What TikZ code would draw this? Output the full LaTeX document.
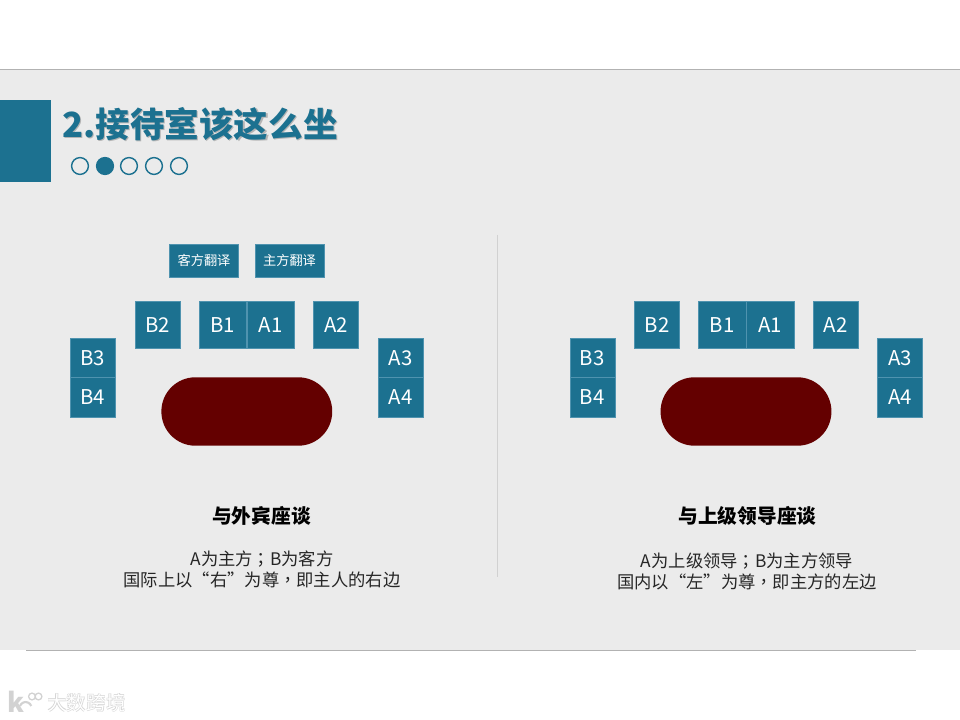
\documentclass[tikz,border=0pt]{standalone}
\usepackage{fontspec}
\setmainfont{Noto Sans CJK SC}
\newfontfamily\puncttc{Noto Sans CJK TC}
\usepackage{tikz}
\definecolor{slidegray}{HTML}{EBEBEB}
\definecolor{seatblue}{HTML}{1C7190}
\definecolor{seatedge}{HTML}{4F93AF}
\definecolor{tablered}{HTML}{640000}
\definecolor{titleshade}{HTML}{B4B4B4}
\definecolor{markgray}{HTML}{D2D2D2}

\begin{document}
\begin{tikzpicture}[
    x=0.025cm, y=-0.025cm,
    seat/.style={rectangle,draw=seatedge,line width=0.35pt,fill=seatblue,text=white,
                 font=\fontsize{14.5}{16}\selectfont,inner sep=0pt,
                 minimum width=1.125cm,minimum height=1.165cm},
    seatwide/.style={seat,minimum width=1.19cm},
    seatlow/.style={seat,minimum height=0.99cm},
    interp/.style={seat,font=\fontsize{9.4}{12}\selectfont,
                   minimum width=1.73cm,minimum height=0.84cm},
    tbl/.style={rectangle,fill=tablered,rounded corners=0.85cm,inner sep=0pt,
                minimum width=4.27cm,minimum height=1.71cm},
    dot/.style={circle,draw=seatblue,line width=1pt,fill=slidegray,inner sep=0pt,
                minimum size=0.42cm},
    dotfull/.style={dot,fill=seatblue},
    hd/.style={font=\fontsize{14}{17}\selectfont\bfseries,text=black},
    body/.style={font=\fontsize{12.3}{14.6}\selectfont,text=black!85,align=center},
    ttl/.style={font=\fontsize{24.6}{30}\selectfont\bfseries,anchor=west,inner sep=0pt},
    wmark/.style={font=\fontsize{14}{16}\selectfont,inner sep=0pt}]

  \useasboundingbox (0,0) rectangle (960,720);
  \fill[white] (0,0) rectangle (960,720);
  \fill[slidegray] (0,70) rectangle (960,650);
  \draw[black!30,line width=0.7pt] (0,69.5) -- (960,69.5);
  \draw[black!30,line width=0.7pt] (26,650.5) -- (916,650.5);
  \draw[black!18,line width=0.6pt] (497,235) -- (497,577);

  \fill[seatblue] (0,100) rectangle (51,182);
  \node[ttl,text=titleshade] (titleshadow) at (63.2,125.5) {2.接待室该这么坐};
  \node[ttl,text=seatblue] (title) at (62,124.2) {2.接待室该这么坐};

  \node[dot]     (d1) at (80,166) {};
  \node[dotfull] (d2) at (105,166) {};
  \node[dot]     (d3) at (129,166) {};
  \node[dot]     (d4) at (154,166) {};
  \node[dot]     (d5) at (179,166) {};

  \node[interp] (guest) at (204,260.6) {客方翻译};
  \node[interp] (host)  at (289.5,260.6) {主方翻译};

  \node[seat]     (lb2) at (157.5,325) {B2};
  \node[seatwide] (lb1) at (222.7,325) {B1};
  \node[seatwide] (la1) at (270.8,325) {A1};
  \node[seat]     (la2) at (336,325) {A2};
  \node[seatlow]  (lb3) at (92.8,357.7) {B3};
  \node[seatlow]  (lb4) at (92.8,397.5) {B4};
  \node[seatlow]  (la3) at (400.6,357.7) {A3};
  \node[seatlow]  (la4) at (400.6,397.5) {A4};
  \node[tbl]      (ltable) at (246.8,411.5) {};

  \node[seat]     (rb2) at (657,325) {B2};
  \node[seatwide] (rb1) at (722.2,325) {B1};
  \node[seatwide] (ra1) at (770.3,325) {A1};
  \node[seat]     (ra2) at (835.5,325) {A2};
  \node[seatlow]  (rb3) at (592.3,357.7) {B3};
  \node[seatlow]  (rb4) at (592.3,397.5) {B4};
  \node[seatlow]  (ra3) at (900,357.7) {A3};
  \node[seatlow]  (ra4) at (900,397.5) {A4};
  \node[tbl]      (rtable) at (746,411.5) {};

  \node[hd] (lhead) at (261.5,516) {与外宾座谈};
  \node[hd] (rhead) at (747.5,516) {与上级领导座谈};
  \node[body] (lnote) at (262,569.5) {A为主方{\puncttc ；}B为客方\\国际上以“右”为尊{\puncttc ，}即主人的右边};
  \node[body] (rnote) at (747,571.5) {A为上级领导{\puncttc ；}B为主方领导\\国内以“左”为尊{\puncttc ，}即主方的左边};

  \node[wmark,text=markgray,font=\fontsize{14}{16}\selectfont\bfseries] (markback) at (86.5,703) {大数跨境};
  \node[wmark,text=white] (mark) at (86.5,703) {大数跨境};
  \node[wmark,text=markgray,font=\fontsize{19}{20}\selectfont\bfseries] (markk) at (16,702) {k};
  \draw[markgray,line width=0.9pt] (32,696.5) circle (3.4);
  \draw[markgray,line width=0.9pt] (38.5,696.5) circle (3.4);
  \draw[markgray,line width=1.5pt] (20,706) arc[start angle=200,end angle=340,radius=6];
\end{tikzpicture}
\end{document}
